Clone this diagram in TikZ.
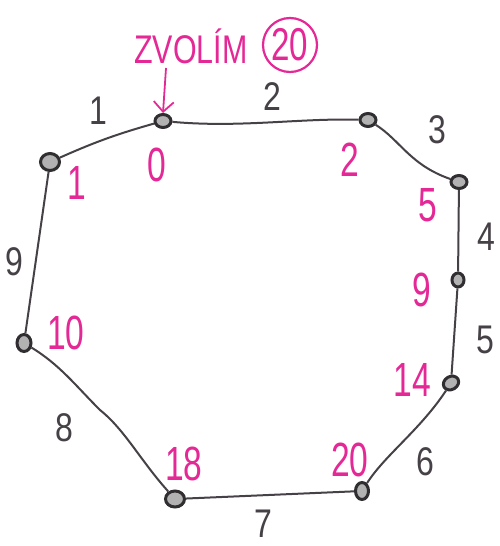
\documentclass[tikz,border=0pt]{standalone}
\usepackage{fontspec}
\setmainfont{Liberation Sans}
\usetikzlibrary{shapes.geometric,arrows.meta}
\definecolor{pinkink}{RGB}{228,40,150}
\definecolor{penink}{RGB}{70,65,70}
\tikzset{
  vtx/.style={ellipse,draw=penink!70!black,fill=gray!60,line width=3pt,minimum width=16pt,minimum height=13pt,inner sep=0pt},
  edge/.style={draw=penink,line width=2pt},
  elab/.style={text=penink,font=\fontsize{40}{40}\selectfont,inner sep=0pt,xscale=0.8},
  vlab/.style={text=pinkink,font=\fontsize{48}{48}\selectfont,inner sep=0pt,xscale=0.7},
}
\begin{document}
\begin{tikzpicture}[x=1pt,y=-1pt]
\useasboundingbox (0,0) rectangle (499,546);
% vertices
\node[vtx] (A) at (163,121) {};
\node[vtx] (B) at (368,120) {};
\node[vtx] (C) at (459,182) {};
\node[vtx,minimum width=12pt,minimum height=14pt] (D) at (458,280) {};
\node[vtx,rotate=30] (E) at (451,383) {};
\node[vtx,minimum width=13pt,minimum height=17pt] (F) at (362,491) {};
\node[vtx,minimum width=19pt,minimum height=16pt] (G) at (175,499) {};
\node[vtx,minimum width=14pt,minimum height=17pt] (H) at (24,343) {};
\node[vtx,minimum width=19pt,minimum height=17pt] (I) at (50,162) {};
% edges
\draw[edge] (I) to[bend left=4] (A);
\draw[edge] (A) .. controls (240,128) and (300,118) .. (B);
\draw[edge] (B) .. controls (400,140) and (410,165) .. (C);
\draw[edge] (C) -- (D);
\draw[edge] (D) -- (E);
\draw[edge] (E) .. controls (420,430) and (385,455) .. (F);
\draw[edge] (F) -- (G);
\draw[edge] (G) .. controls (140,460) and (125,430) .. (100,410) .. controls (75,385) and (60,365) .. (H);
\draw[edge] (H) -- (I);
% edge labels
\node[elab] (l1) at (98,111) {1};
\node[elab] (l2) at (272,97) {2};
\node[elab] (l3) at (437,130) {3};
\node[elab] (l4) at (486,237) {4};
\node[elab] (l5) at (485,340) {5};
\node[elab] (l6) at (425,462) {6};
\node[elab] (l7) at (263,524) {7};
\node[elab] (l8) at (64,428) {8};
\node[elab] (l9) at (14,262) {9};
% vertex labels
\node[vlab] (p0) at (157,165) {0};
\node[vlab] (p2) at (350,160) {2};
\node[vlab] (p5) at (428,205) {5};
\node[vlab] (p9) at (422,290) {9};
\node[vlab] (p14) at (412,380) {14};
\node[vlab] (p20) at (350,460) {20};
\node[vlab] (p18) at (184,464) {18};
\node[vlab] (p10) at (66,333) {10};
\node[vlab] (p1) at (77,183) {1};
% top text
\node[text=pinkink,font=\fontsize{40}{40}\selectfont,inner sep=0pt,anchor=west,xscale=0.76] (zv) at (134,46) {ZVOLÍM};
\node[circle,draw=pinkink,line width=2.2pt,text=pinkink,font=\fontsize{46}{46}\selectfont,minimum size=54pt,inner sep=0pt] (c20) at (290,45) {\scalebox{0.72}[1]{20}};
\coordinate (arrtop) at (166,68);
\draw[pinkink,line width=1.8pt,-{Straight Barb[length=10pt,width=20pt]}] (arrtop) -- (A.north);
\end{tikzpicture}
\end{document}
